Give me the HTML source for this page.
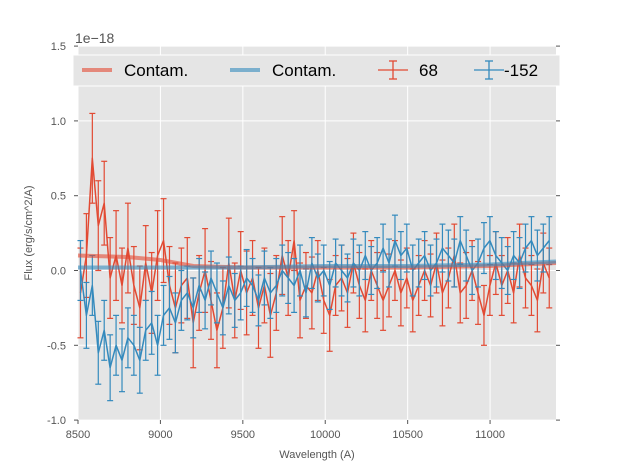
<!DOCTYPE html>
<html><head><meta charset="utf-8"><style>
body{margin:0;background:#fff;}
svg text{font-family:"Liberation Sans",sans-serif;}
</style></head><body>
<svg id="chart" width="617" height="467" xmlns="http://www.w3.org/2000/svg">
<rect x="78" y="46" width="478" height="374" fill="#E5E5E5"/>
<g id="grid"></g><g id="ticks"></g><g id="series"></g>
<text x="75" y="43" font-size="14" fill="#555">1e−18</text>
<text x="317" y="458" font-size="11" fill="#555" text-anchor="middle">Wavelength (A)</text>
<text transform="translate(32,233) rotate(-90)" font-size="11" fill="#555" text-anchor="middle">Flux (erg/s/cm^2/A)</text>
<g>
<rect x="73" y="55" width="487" height="31" fill="#E5E5E5" stroke="#fff" stroke-width="1"/>
<g><line x1="82" y1="70" x2="112" y2="70" stroke="#E24A33" stroke-opacity="0.6" stroke-width="4"/><text x="124" y="76" font-size="17" fill="#000">Contam.</text></g>
<g><line x1="230" y1="70" x2="260" y2="70" stroke="#348ABD" stroke-opacity="0.6" stroke-width="4"/><text x="272" y="76" font-size="17" fill="#000">Contam.</text></g>
<g stroke="#E24A33" stroke-width="1.3"><line x1="378" y1="70" x2="408" y2="70"/><line x1="393" y1="61" x2="393" y2="79"/><line x1="389" y1="61" x2="397" y2="61"/><line x1="389" y1="79" x2="397" y2="79"/><text x="419" y="76" font-size="17" fill="#000" stroke="none">68</text></g>
<g stroke="#348ABD" stroke-width="1.3"><line x1="474" y1="70" x2="504" y2="70"/><line x1="489" y1="61" x2="489" y2="79"/><line x1="485" y1="61" x2="493" y2="61"/><line x1="485" y1="79" x2="493" y2="79"/><text x="504" y="76" font-size="17" fill="#000" stroke="none">-152</text></g>
</g>
</svg>
<script>
const xTicks=[8500,9000,9500,10000,10500,11000];
const yTicks=[-1.0,-0.5,0.0,0.5,1.0,1.5];
const xStart=8515, xStep=36;
const red68=[-0.15,0.1,0.75,0.3,0.45,-0.05,0.1,-0.1,0.15,-0.1,-0.25,0.05,-0.15,0.1,0.2,-0.1,-0.25,-0.1,-0.05,-0.35,-0.15,0.0,-0.2,-0.4,-0.25,0.05,-0.2,0.0,-0.15,-0.05,-0.25,-0.1,-0.3,-0.15,0.1,-0.05,0.2,-0.2,-0.1,-0.15,0.0,-0.2,-0.3,-0.1,-0.05,-0.15,0.05,-0.1,-0.2,0.0,-0.1,-0.2,-0.1,0.0,-0.15,-0.05,-0.2,-0.1,0.0,-0.1,0.05,-0.15,-0.05,0.1,-0.15,-0.1,0.0,-0.15,-0.3,-0.1,0.05,-0.1,0.0,-0.15,0.1,-0.05,-0.1,-0.2,0.05,-0.05];
const redErr=[0.3,0.28,0.3,0.3,0.28,0.27,0.3,0.25,0.3,0.26,0.28,0.25,0.27,0.3,0.28,0.26,0.3,0.25,0.27,0.3,0.25,0.28,0.26,0.25,0.27,0.3,0.25,0.26,0.28,0.25,0.27,0.25,0.28,0.25,0.26,0.25,0.2,0.25,0.22,0.24,0.2,0.22,0.24,0.2,0.22,0.23,0.2,0.22,0.21,0.2,0.22,0.2,0.21,0.2,0.22,0.2,0.21,0.2,0.2,0.21,0.2,0.22,0.2,0.21,0.2,0.22,0.2,0.21,0.2,0.2,0.21,0.2,0.22,0.2,0.21,0.2,0.2,0.21,0.2,0.2];
const blue152=[0.0,-0.3,-0.1,-0.55,-0.4,-0.65,-0.5,-0.6,-0.45,-0.5,-0.6,-0.4,-0.35,-0.5,-0.3,-0.25,-0.35,-0.2,-0.15,-0.25,-0.1,-0.2,-0.05,-0.15,-0.25,-0.1,-0.2,-0.15,-0.05,-0.1,-0.2,-0.05,-0.15,-0.1,0.0,-0.05,-0.1,0.0,-0.15,0.05,-0.05,0.0,-0.1,0.05,0.0,-0.05,0.05,0.0,0.1,0.0,0.05,0.15,0.05,0.2,0.1,0.15,0.0,0.05,0.1,0.0,0.05,0.15,0.1,0.05,0.2,0.1,0.0,0.05,0.15,0.2,0.1,0.05,0.0,0.1,0.05,0.15,0.2,0.1,0.15,0.2];
const blueErr=[0.2,0.22,0.2,0.21,0.2,0.22,0.2,0.21,0.2,0.2,0.22,0.2,0.21,0.2,0.2,0.21,0.2,0.2,0.18,0.2,0.18,0.19,0.18,0.2,0.18,0.19,0.18,0.18,0.19,0.18,0.17,0.18,0.17,0.18,0.17,0.17,0.18,0.17,0.16,0.17,0.16,0.17,0.16,0.16,0.17,0.16,0.16,0.17,0.16,0.16,0.17,0.16,0.16,0.17,0.16,0.16,0.17,0.16,0.16,0.17,0.16,0.16,0.17,0.16,0.16,0.17,0.16,0.16,0.17,0.16,0.16,0.17,0.16,0.16,0.17,0.16,0.16,0.17,0.16,0.16];
const contamX=[8500,8800,9000,9200,9500,10000,10500,11000,11400];
const contamRed=[0.1,0.09,0.07,0.03,0.02,0.02,0.02,0.03,0.05];
const contamBlue=[0.02,0.02,0.02,0.02,0.02,0.03,0.03,0.04,0.06];
const X=v=>78+(v-8500)*478/2900, Y=v=>270.5-v*149.6;
const NS="http://www.w3.org/2000/svg";
function mk(p,tag,at){const e=document.createElementNS(NS,tag);for(const k in at)e.setAttribute(k,at[k]);p.appendChild(e);return e;}
const grid=document.getElementById('grid'),ticks=document.getElementById('ticks'),ser=document.getElementById('series');
xTicks.forEach(t=>{const x=X(t);
const g=mk(grid,'line',{x1:x,x2:x,y1:46,y2:420,stroke:'#fff','stroke-width':1});


mk(ticks,'line',{x1:x,x2:x,y1:420,y2:424,stroke:'#555'});
const l=mk(ticks,'text',{x:x,y:438,'font-size':11,fill:'#555','text-anchor':'middle'});l.textContent=t;

});
yTicks.forEach(t=>{const y=Y(t);
const g=mk(grid,'line',{x1:78,x2:556,y1:y,y2:y,stroke:'#fff','stroke-width':1});


mk(ticks,'line',{x1:74,x2:78,y1:y,y2:y,stroke:'#555'});
mk(ticks,'line',{x1:556,x2:560,y1:y,y2:y,stroke:'#555'});
const l=mk(ticks,'text',{x:66,y:y+4,'font-size':11,fill:'#555','text-anchor':'end'});l.textContent=t.toFixed(1);

});
function line(xs,ys,col,w,op,name){const d=xs.map((x,i)=>(i?'L':'M')+X(x).toFixed(1)+','+Y(ys[i]).toFixed(1)).join('');
const p=mk(ser,'path',{d:d,fill:'none',stroke:col,'stroke-width':w,'stroke-opacity':op,'stroke-linejoin':'round'});

}
function errs(vals,err,col,name){const n=Math.min(vals.length,err.length);const xs=[];
const g=mk(ser,'g',{stroke:col,'stroke-width':1.2});


for(let i=0;i<n;i++){const x=X(xStart+i*xStep);xs.push(xStart+i*xStep);const y1=Y(vals[i]+err[i]),y2=Y(vals[i]-err[i]);
mk(g,'line',{x1:x,x2:x,y1:y1,y2:y2});mk(g,'line',{x1:x-3,x2:x+3,y1:y1,y2:y1});mk(g,'line',{x1:x-3,x2:x+3,y1:y2,y2:y2});}
line(xs,vals.slice(0,n),col,1.5,1,name+'-line');}
errs(red68,redErr,'#E24A33','series-68');
errs(blue152,blueErr,'#348ABD','series-minus152');
line(contamX,contamRed,'#E24A33',4,0.6,'contam-red-line');
line(contamX,contamBlue,'#348ABD',4,0.6,'contam-blue-line');
</script>
</body></html>
